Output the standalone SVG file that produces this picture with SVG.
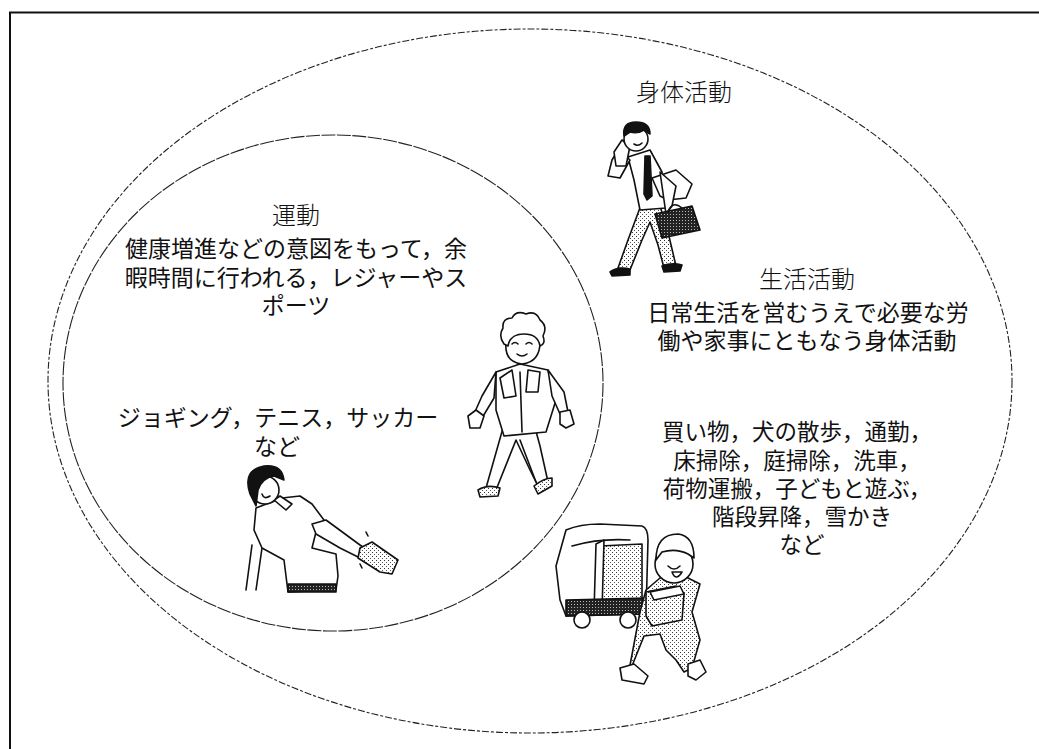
<svg xmlns="http://www.w3.org/2000/svg" width="1039" height="749" viewBox="0 0 1039 749">
  <defs>
    <pattern id="stipple" width="4" height="4" patternUnits="userSpaceOnUse">
      <rect width="4" height="4" fill="#fff"/>
      <rect x="0" y="0" width="1" height="1" fill="#333"/>
      <rect x="2" y="2" width="1" height="1" fill="#555"/>
    </pattern>
    <pattern id="dense" width="3" height="3" patternUnits="userSpaceOnUse">
      <rect width="3" height="3" fill="#222"/>
      <rect x="1" y="1" width="1" height="1" fill="#bbb"/>
    </pattern>
  </defs>
  <style>
    .frame { stroke: #111; fill: none; }
    .outer { fill: none; stroke: #222; stroke-width: 1.1; stroke-dasharray: 7 2 3 2; }
    .inner { fill: none; stroke: #222; stroke-width: 1.1; stroke-dasharray: 14 1.5; }
    .title { font-family: "Liberation Sans", "Noto Sans CJK JP", sans-serif; font-size: 24px; font-weight: 300; fill: #111; text-anchor: middle; }
    .body { font-family: "Liberation Sans", "Noto Sans CJK JP", sans-serif; font-size: 23px; fill: #111; text-anchor: middle; }
    .list { font-family: "Liberation Sans", "Noto Sans CJK JP", sans-serif; font-size: 22.5px; fill: #111; text-anchor: middle; }
    .ink { stroke: #111; stroke-width: 1.6; stroke-linejoin: round; stroke-linecap: round; }
    .fw { fill: #fff; }
    .fs { fill: url(#stipple); }
    .fd { fill: url(#dense); }
    .fk { fill: #111; }
    .ln { fill: none; }
  </style>

  <!-- page frame: left and top rules only -->
  <path class="frame" d="M10 749 V12.5 H1039" stroke-width="2"/>

  <!-- category regions -->
  <g id="physical-activity-region">
    <ellipse class="outer" cx="530" cy="381" rx="482" ry="352"/>
  </g>
  <g id="exercise-region">
    <ellipse class="inner" cx="333" cy="383" rx="270" ry="248"/>
  </g>

  <!-- labels -->
  <g id="physical-activity">
    <text class="title" x="684" y="101">身体活動</text>
  </g>

  <g id="exercise">
    <text class="title" x="296" y="224">運動</text>
    <text class="body" x="296" y="257">健康増進などの意図をもって，余</text>
    <text class="body" x="296" y="286">暇時間に行われる，レジャーやス</text>
    <text class="body" x="296" y="314">ポーツ</text>
    <text class="body" x="278" y="426">ジョギング，テニス，サッカー</text>
    <text class="body" x="277" y="455">など</text>
  </g>

  <g id="daily-living-activity">
    <text class="title" x="807" y="288">生活活動</text>
    <text class="body" x="808" y="321">日常生活を営むうえで必要な労</text>
    <text class="body" x="807" y="349">働や家事にともなう身体活動</text>
    <text class="list" x="797" y="440">買い物，犬の散歩，通勤，</text>
    <text class="list" x="797" y="469">床掃除，庭掃除，洗車，</text>
    <text class="list" x="797" y="497">荷物運搬，子どもと遊ぶ，</text>
    <text class="list" x="802" y="525">階段昇降，雪かき</text>
    <text class="list" x="802" y="553">など</text>
  </g>

  <!-- illustration: commuter with briefcase -->
  <g id="commuter" class="ink">
    <path class="fs" d="M641 205 L628 240 L618 268 L630 270 L642 240 L650 222 L658 245 L664 268 L676 266 L668 232 L660 206 Z"/>
    <path class="fk" d="M610 272 Q618 266 630 269 L630 275 L612 276 Z"/>
    <path class="fk" d="M662 266 Q672 262 682 265 L680 271 L664 272 Z"/>
    <path class="fw" d="M628 157 L650 150 L662 172 L666 208 L640 210 L634 180 Z"/>
    <path class="fk" d="M645 156 L650 156 L652 196 L647 200 L644 194 Z"/>
    <path class="fw" d="M652 178 L676 170 L692 184 L686 198 L668 200 L660 196 Z"/>
    <path class="fw" d="M660 172 L676 186 L672 206 L666 214 Z"/>
    <path class="fw" d="M630 160 L620 178 L608 176 L612 160 L618 150 Z"/>
    <path class="fw" d="M614 152 L622 140 L630 146 L626 166 L616 166 Z"/>
    <circle class="fw" cx="636" cy="139" r="12"/>
    <path class="fk" d="M624 136 Q622 122 636 122 Q650 122 650 134 L644 130 Q638 134 630 132 Z"/>
    <path class="ln" d="M634 144 Q638 147 642 143"/>
    <path class="fd" d="M655 214 L692 206 L700 230 L662 238 Z"/>
    <path class="ln" d="M668 212 Q672 200 682 208"/>
  </g>

  <!-- illustration: elderly man walking -->
  <g id="walker" class="ink">
    <path class="fw" d="M503 428 L486 488 L496 490 L516 440 L530 470 L538 486 L548 482 L540 446 L534 424 Z"/>
    <path class="ln" d="M520 440 L536 482"/>
    <path class="fs" d="M478 490 Q488 484 500 488 L498 496 L480 497 Z"/>
    <path class="fs" d="M534 486 Q544 478 552 478 L552 486 L538 494 Z"/>
    <path class="fw" d="M496 372 L520 364 L548 370 L556 400 L546 432 L504 436 L496 410 Z"/>
    <path class="fw" d="M496 372 L482 396 L474 414 L482 418 L494 398 Z"/>
    <path class="fw" d="M468 416 L476 410 L484 416 L480 428 L470 428 Z"/>
    <path class="fw" d="M548 370 L564 392 L568 412 L560 414 L552 396 Z"/>
    <path class="fw" d="M560 412 L570 410 L574 424 L566 428 L560 424 Z"/>
    <path class="fw" d="M500 378 L512 370 L516 396 L504 398 Z"/>
    <path class="fw" d="M528 370 L540 372 L538 392 L526 392 Z"/>
    <path class="ln" d="M520 372 L522 432"/>
    <path class="fw" d="M506 342 Q504 362 522 364 Q540 362 540 342 Q540 330 522 330 Q506 330 506 342 Z"/>
    <path class="fw" d="M504 344 Q498 336 503 328 Q502 318 512 318 Q516 310 526 314 Q536 310 540 320 Q548 326 543 336 Q546 344 540 346 Q538 334 524 334 Q510 334 508 346 Z"/>
    <path class="ln" d="M512 344 Q515 341 518 344 M526 344 Q529 341 532 344 M517 354 Q522 358 527 354"/>
  </g>

  <!-- illustration: bowler -->
  <g id="bowler" class="ink">
    <path class="ln" d="M252 545 L246 590 M262 548 L256 590"/>
    <path class="fw" d="M256 508 L282 498 L300 496 L312 504 L324 520 L316 532 L312 548 L336 554 L338 576 L336 590 L288 592 L284 560 L262 548 L254 530 Z"/>
    <path class="fw" d="M312 524 L326 520 L360 545 L370 552 L364 560 L340 548 L316 534 Z"/>
    <path class="fd" d="M288 584 L336 584 L336 592 L288 592 Z"/>
    <path class="fs" d="M360 548 L372 542 L398 560 L392 574 L380 572 L358 558 Z"/>
    <path class="fw" d="M274 500 L286 510 L292 504 L280 496 Z"/>
    <circle class="fw" cx="265" cy="490" r="14"/>
    <path class="fk" d="M250 494 Q242 470 264 466 Q282 464 284 480 L274 476 Q262 478 258 490 L256 506 Z"/>
    <path class="ln" d="M262 494 Q264 500 270 496"/>
    <path class="ln" d="M366 532 L368 536 M360 564 L362 568"/>
  </g>

  <!-- illustration: delivery truck and mover -->
  <g id="mover" class="ink">
    <path class="fw" d="M566 530 Q580 524 600 524 L642 526 Q648 528 648 540 L646 614 L566 616 L560 600 L556 566 Z"/>
    <path class="ln" d="M572 546 Q600 538 630 540"/>
    <path class="fs" d="M600 546 L642 544 L642 610 L600 612 Z"/>
    <path class="fw" d="M596 544 L604 540 L602 612 L594 612 Z"/>
    <path class="fd" d="M566 600 L646 598 L646 614 L566 616 Z"/>
    <circle class="fw" cx="582" cy="620" r="8"/>
    <circle class="fw" cx="628" cy="620" r="8"/>
    <path class="fs" d="M628 676 L644 636 L660 634 L666 650 L676 660 L684 672 L692 668 L700 640 L692 612 L700 584 L684 576 L660 578 L646 590 L640 612 Z"/>
    <path class="fw" d="M620 668 L634 664 L648 676 L644 684 L622 680 Z"/>
    <path class="fw" d="M688 664 L700 660 L706 672 L696 680 L688 676 Z"/>
    <path class="fs" d="M646 592 L676 586 L684 594 L682 620 L652 626 L646 616 Z"/>
    <path class="fw" d="M650 592 L680 586 L684 594 L654 600 Z"/>
    <circle class="fw" cx="674" cy="564" r="19"/>
    <path class="fw" d="M656 560 Q656 534 678 534 Q694 536 694 558 L688 554 Q676 548 662 552 Z"/>
    <path class="ln" d="M668 566 Q674 572 680 566"/>
    <path class="fw" d="M672 572 Q676 582 682 572 Z"/>
  </g>
</svg>
